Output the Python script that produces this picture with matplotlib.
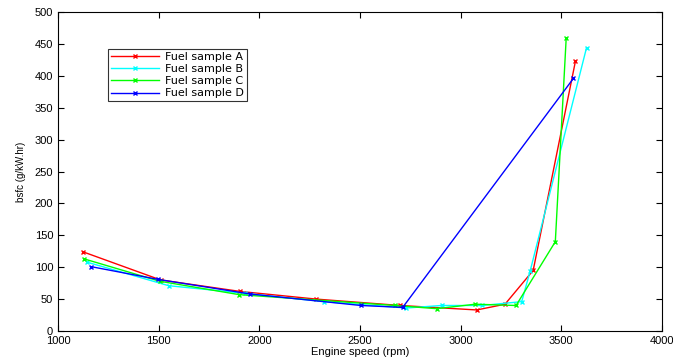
import matplotlib
matplotlib.use('Agg')
import matplotlib.pyplot as plt

# --- data ---
speed_a = [1125, 1510, 1905, 2283, 2700, 3080, 3220, 3360, 3570]
bsfc_a = [124, 80, 62, 50, 40, 33, 42, 95, 423]
speed_b = [1143, 1550, 1930, 2320, 2730, 2905, 3105, 3303, 3345, 3625]
bsfc_b = [108, 71, 59, 46, 36, 40, 40, 46, 94, 444]
speed_c = [1130, 1505, 1900, 2675, 2880, 3072, 3275, 3470, 3524]
bsfc_c = [113, 78, 57, 40, 35, 42, 40, 140, 459]
speed_d = [1162, 1495, 1955, 2505, 2712, 3560]
bsfc_d = [101, 81, 58, 40, 37, 396]

labels = ["Fuel sample A", "Fuel sample B", "Fuel sample C", "Fuel sample D"]
colors = ["#ff0000", "#00ffff", "#00ff00", "#0000ff"]

plt.rcParams['font.family'] = ['Liberation Sans', 'DejaVu Sans']

fig = plt.figure(figsize=(6.73, 3.58), dpi=100)
ax = fig.add_axes([0.0862, 0.0754, 0.8975, 0.891])

series = [(speed_a, bsfc_a), (speed_b, bsfc_b), (speed_c, bsfc_c), (speed_d, bsfc_d)]
for (xs, ys), lab, col in zip(series, labels, colors):
    ax.plot(xs, ys, color=col, marker='x', markersize=3, markeredgewidth=1,
            linewidth=1, label=lab)

ax.set_xlim(1000, 4000)
ax.set_ylim(0, 500)
ax.set_xticks(range(1000, 4001, 500))
ax.set_yticks(range(0, 501, 50))
ax.tick_params(direction='in', top=True, right=True, labelsize=8, length=4)
ax.set_xlabel("Engine speed (rpm)", fontsize=8, labelpad=1)
ax.set_ylabel("bsfc (g/kW.hr)", fontsize=7, labelpad=6)

leg = ax.legend(loc='upper left', bbox_to_anchor=(0.083, 0.884),
                prop={'family': 'DejaVu Sans', 'size': 8},
                frameon=True, fancybox=False, edgecolor='black',
                borderpad=0.25, labelspacing=0.2, handlelength=4.3,
                handletextpad=0.6, borderaxespad=0)
leg.get_frame().set_linewidth(0.8)

fig.savefig("out.png", dpi=100)
